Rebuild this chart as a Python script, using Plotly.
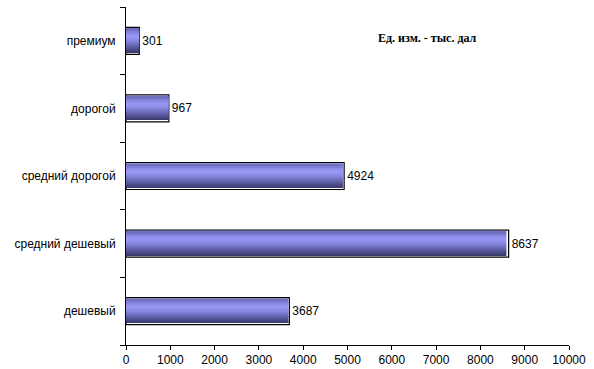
import plotly.graph_objects as go

categories = ["дешевый", "средний дешевый", "средний дорогой", "дорогой", "премиум"]
values = [3687, 8637, 4924, 967, 301]
x_ticks = [0, 1000, 2000, 3000, 4000, 5000, 6000, 7000, 8000, 9000, 10000]
unit_note = "Ед. изм. - тыс. дал"

# gradient strips, from top of bar to bottom
grad = ["#7070c0", "#8080d8", "#8c8ce8", "#9696f2", "#9696f2", "#9090ea",
        "#8686de", "#7c7cd0", "#7070c0", "#6464ae", "#58589c", "#4c4c8a",
        "#424278", "#38386a"]

fig = go.Figure()
full_w = 0.40
# outline / shadow bar
fig.add_trace(go.Bar(
    y=categories, x=values, orientation="h", width=full_w,
    marker=dict(color="white", line=dict(color="black", width=1.2)),
    text=[str(v) for v in values], textposition="outside",
    textfont=dict(family="Liberation Sans, Arial", size=12, color="black"),
    cliponaxis=False, hoverinfo="skip", showlegend=False,
))
inner = 0.36
n = len(grad)
sw = inner / n
for i, c in enumerate(grad):
    off = inner / 2 - (i + 1) * sw + 0.01
    w = sw * 1.8 if i < n - 1 else sw
    if i < n - 1:
        off -= sw * 0.8
    fig.add_trace(go.Bar(
        y=categories, x=[v * 0.994 for v in values], orientation="h",
        width=w, offset=off,
        marker=dict(color=c, line=dict(width=0)),
        hoverinfo="skip", showlegend=False,
    ))

fig.data = (fig.data[0],) + tuple(reversed(fig.data[1:]))

fig.update_layout(
    barmode="overlay",
    width=594, height=369,
    margin=dict(l=126, r=25, t=7, b=24),
    paper_bgcolor="white", plot_bgcolor="white",
    font=dict(family="Liberation Sans, Arial", size=12, color="black"),
    xaxis=dict(range=[0, 10000], tickvals=x_ticks, ticktext=[str(t) for t in x_ticks],
               showgrid=False, zeroline=False, showline=True, linecolor="black",
               linewidth=1, ticks="outside", ticklen=4, tickcolor="black",
               tickfont=dict(size=12), automargin=False),
    yaxis=dict(showgrid=False, zeroline=False, showline=True, linecolor="black",
               linewidth=1, ticks="outside", ticklen=5, tickcolor="black",
               tickson="boundaries", ticklabelstandoff=7, tickfont=dict(size=12),
               automargin=False),
    annotations=[dict(
        text="<b>" + unit_note + "</b>", xref="paper", yref="paper",
        x=0.68, y=0.908, xanchor="center", yanchor="middle", showarrow=False,
        font=dict(family="Liberation Serif, Times New Roman", size=12, color="black"),
    )],
)

fig.write_html("out.html", config={"displayModeBar": False},
               post_script="document.body.style.margin='0';document.body.style.overflow='hidden';")
